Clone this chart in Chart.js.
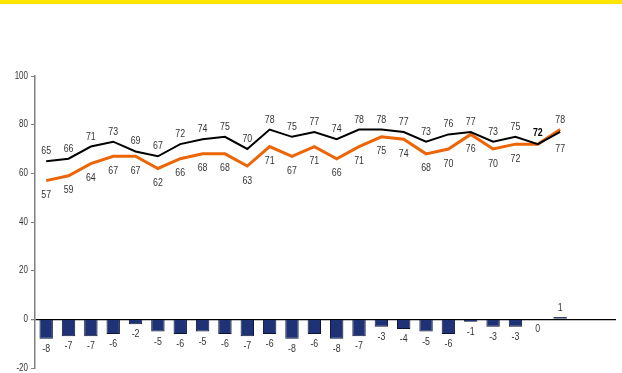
<!DOCTYPE html>
<html>
<head>
<meta charset="utf-8">
<script src="https://cdn.jsdelivr.net/npm/chart.js@4/dist/chart.umd.min.js"></script>
<style>
  html, body { margin: 0; padding: 0; background: #fff; }
  #wrap { position: relative; width: 622px; height: 373px; overflow: hidden; }
  #topbar { position: absolute; left: 0; top: 0; width: 622px; height: 4px; background: #FFE600; z-index: 2; }
  canvas { position: absolute; left: 0; top: 0; }
</style>
</head>
<body>
<div id="wrap">
  <div id="topbar"></div>
  <canvas id="c" width="622" height="373"></canvas>
</div>
<script>
// 24 periods plus two empty slots at the right end of the axis
const categories = ['1','2','3','4','5','6','7','8','9','10','11','12','13','14','15','16','17','18','19','20','21','22','23','24','',''];
const blackSeries = [65,66,71,73,69,67,72,74,75,70,78,75,77,74,78,78,77,73,76,77,73,75,72,77];
const orangeSeries = [57,59,64,67,67,62,66,68,68,63,71,67,71,66,71,75,74,68,70,76,70,72,72,78];
const gapSeries = [-8,-7,-7,-6,-2,-5,-6,-5,-6,-7,-6,-8,-6,-8,-7,-3,-4,-5,-6,-1,-3,-3,0,1];
const yTicks = [-20,0,20,40,60,80,100];

const FONT = "'Liberation Sans', Arial, sans-serif";
const NARROW = 0.8;

function narrowText(ctx, text, x, y) {
  ctx.save();
  ctx.translate(x, y);
  ctx.scale(NARROW, 1);
  ctx.fillText(text, 0, 0);
  ctx.restore();
}

const labelPlugin = {
  id: 'valueLabels',
  afterDraw(chart) {
    const ctx = chart.ctx;
    ctx.save();
    // y axis tick labels (values from the library's own scale)
    const ys = chart.scales.y;
    ctx.font = '10px ' + FONT;
    ctx.fillStyle = '#333333';
    ctx.textAlign = 'right';
    ctx.textBaseline = 'middle';
    ys.ticks.forEach(t => {
      narrowText(ctx, String(t.value), (ys.right - 7) , ys.getPixelForValue(t.value));
    });

    ctx.textAlign = 'center';
    const n = blackSeries.length;
    chart.data.datasets.forEach((ds, di) => {
      const meta = chart.getDatasetMeta(di);
      meta.data.forEach((el, i) => {
        const v = ds.data[i];
        if (v === null || v === undefined) return;
        let x = el.x, y = el.y;
        let weight = 'normal';
        let color = '#333333';
        if (ds.key === 'black') {
          if (i === n - 1) y += 17;
          else y -= 10;
          if (i === n - 2) { weight = 'bold'; color = '#000'; y -= 1.5; }
        } else if (ds.key === 'orange') {
          if (i === n - 2) return;
          if (i === n - 1) y -= 10;
          else y += 14.5;
        } else {
          if (v > 0) y -= 9;
          else y += 10;
        }
        ctx.font = weight + ' 11px ' + FONT;
        ctx.fillStyle = color;
        narrowText(ctx, String(v), x, y);
      });
    });
    ctx.restore();
  }
};

new Chart(document.getElementById('c'), {
  data: {
    labels: categories,
    datasets: [
      {
        key: 'black', type: 'line', data: blackSeries,
        borderColor: '#000000', borderWidth: 2, pointRadius: 0, tension: 0, order: 0
      },
      {
        key: 'orange', type: 'line', data: orangeSeries,
        borderColor: '#EC6608', borderWidth: 3, pointRadius: 0, tension: 0, order: 1
      },
      {
        key: 'bar', type: 'bar', data: gapSeries,
        backgroundColor: '#1F3275', borderColor: '#0B1433', borderWidth: 1,
        barPercentage: 0.6, categoryPercentage: 1.0, order: 2
      }
    ]
  },
  options: {
    responsive: false,
    animation: false,
    layout: { padding: { left: 0, right: 6, top: 76, bottom: 5 } },
    plugins: { legend: { display: false }, tooltip: { enabled: false } },
    scales: {
      x: { type: 'category', offset: true, display: false },
      y: {
        min: -20, max: 100,
        afterBuildTicks(scale) { scale.ticks = yTicks.map(v => ({ value: v })); },
        afterFit(scale) { scale.width = 35; },
        border: { display: true, color: '#808080', width: 1.5 },
        grid: {
          drawOnChartArea: true,
          color: c => (c.tick && c.tick.value === 0) ? '#000000' : 'rgba(0,0,0,0)',
          lineWidth: c => (c.tick && c.tick.value === 0) ? 1.3 : 1,
          tickColor: '#808080',
          tickLength: 4
        },
        ticks: { display: false }
      }
    }
  },
  plugins: [labelPlugin]
});
</script>
</body>
</html>
